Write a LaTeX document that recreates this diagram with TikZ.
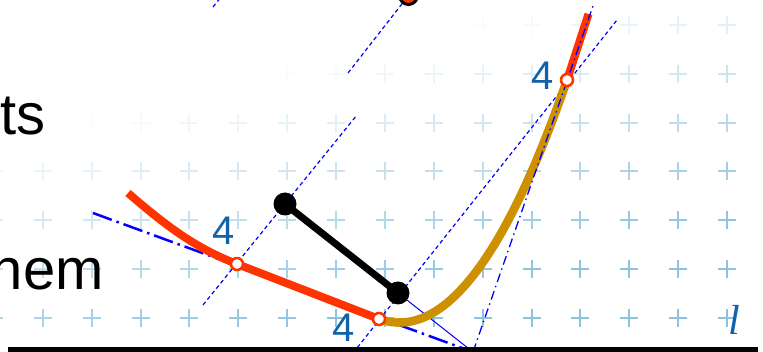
\documentclass[tikz,border=0pt]{standalone}
\usepackage{fontspec}
\setmainfont{Liberation Sans}
\newfontfamily\lserif{Liberation Serif}
\usetikzlibrary{calc}
\definecolor{redc}{RGB}{255,51,0}
\definecolor{goldc}{RGB}{204,144,0}
\definecolor{labc}{RGB}{18,98,170}
\definecolor{gridc}{RGB}{140,195,222}
\definecolor{guideb}{RGB}{0,0,255}
\tikzset{
  gridmark/.style={draw=gridc, line width=2pt},
  bigtext/.style={font=\fontsize{58}{60}\selectfont, inner sep=0pt, text=black},
  lab/.style={font=\fontsize{40}{42}\selectfont, inner sep=0pt, text=labc},
  guide/.style={draw=guideb, line width=1.2pt, dash pattern=on 4pt off 3pt},
  tanthick/.style={draw=guideb, line width=2.5pt, dash pattern=on 20pt off 5pt on 2.5pt off 5pt},
  tanthin/.style={draw=guideb, line width=1.3pt, dash pattern=on 9pt off 4pt on 1.5pt off 4pt},
  redcurve/.style={draw=redc, line width=8pt, line cap=butt, line join=round},
  goldcurve/.style={draw=goldc, line width=8.5pt, line cap=butt},
  opencirc/.style={circle, draw=redc, fill=white, line width=2.5pt, minimum size=12pt, inner sep=0pt},
  blackdot/.style={circle, fill=black, minimum size=23pt, inner sep=0pt},
  topdot/.style={circle, fill=redc, draw=black, line width=3pt, minimum size=18pt, inner sep=0pt}
}
\begin{document}
\begin{tikzpicture}[x=1pt,y=-1pt]
\useasboundingbox (0,0) rectangle (763,352);
\clip (0,0) rectangle (763,352);
\fill[white] (0,0) rectangle (763,352);
% faded grid of crosses
\foreach \i in {0,...,15}{
  \foreach \j in {0,...,6}{
    \pgfmathsetmacro\gx{-6+48.87*\i}
    \pgfmathsetmacro\gy{25+48.83*\j}
    \pgfmathsetmacro\op{max(0,min(1,0.7*\gx/763+1.3*\gy/352-0.5))}
    \draw[gridmark, draw opacity=\op] (\gx-9,\gy) -- (\gx+9,\gy) (\gx,\gy-9) -- (\gx,\gy+9);
  }
}
% text fragments
\node[bigtext, anchor=base east] (ts) at (46,135) {ts};
\node[bigtext, anchor=base east] (hem) at (104,290) {hem};
% key points
\coordinate (A) at (237,264);
\coordinate (B) at (379,319);
\coordinate (T) at (567,80);
\coordinate (K) at (473,352);
\coordinate (D1) at (285,204);
\coordinate (D2) at (398,293);
\coordinate (Q) at (408.5,-4.5);
\coordinate (R0) at (128,193);
\coordinate (R1) at (588.5,14);
\coordinate (tl0) at (93,213);
\coordinate (tr1) at (594,3);
\coordinate (L1a) at (203,305);
\coordinate (L1b) at (357,115);
\coordinate (L2a) at (353,353);
\coordinate (L2b) at (617,20);
\coordinate (L3a) at (348,73);
\coordinate (L4a) at (213,7);
\coordinate (L4b) at (219.5,-1);
% dashed guide lines
\draw[guide] (L1a) -- (L1b);
\draw[guide] (L2a) -- (L2b);
\draw[guide] (L3a) -- (Q);
\draw[guide] (L4a) -- (L4b);
% thick tangent line
\draw[tanthick] (tl0) -- (K);
% thin solid line
\draw[draw=guideb, line width=1pt] (D2) -- (K);
% red curves
\draw[redcurve] (R0) .. controls (165,225) and (195,248) .. (A) -- (B);
\draw[redcurve] (T) -- (R1);
% gold curve (quadratic with control K)
\draw[goldcurve] (B) .. controls ($(B)!2/3!(K)$) and ($(T)!2/3!(K)$) .. (T);
% thin tangent line
\draw[tanthin] (K) -- (tr1);
% black segment
\draw[line width=7pt] (D1) -- (D2);
\node[blackdot] (d1) at (D1) {};
\node[blackdot] (d2) at (D2) {};
% top dot
\node[topdot] (q) at (Q) {};
% open circles
\node[opencirc] (a) at (A) {};
\node[opencirc] (b) at (B) {};
\node[opencirc] (t) at (T) {};
% bottom bar
\draw[line width=6pt] (8,350) -- (758,350);
% labels
\node[lab, anchor=base] (n1) at (224,245) {4};
\node[lab, anchor=base] (n2) at (344,342) {4};
\node[lab, anchor=base] (n3) at (543,90) {4};
\node[font=\lserif\itshape\fontsize{42}{44}\selectfont, text=labc, inner sep=0pt, anchor=base] (ell) at (734,335) {l};
\end{tikzpicture}
\end{document}
